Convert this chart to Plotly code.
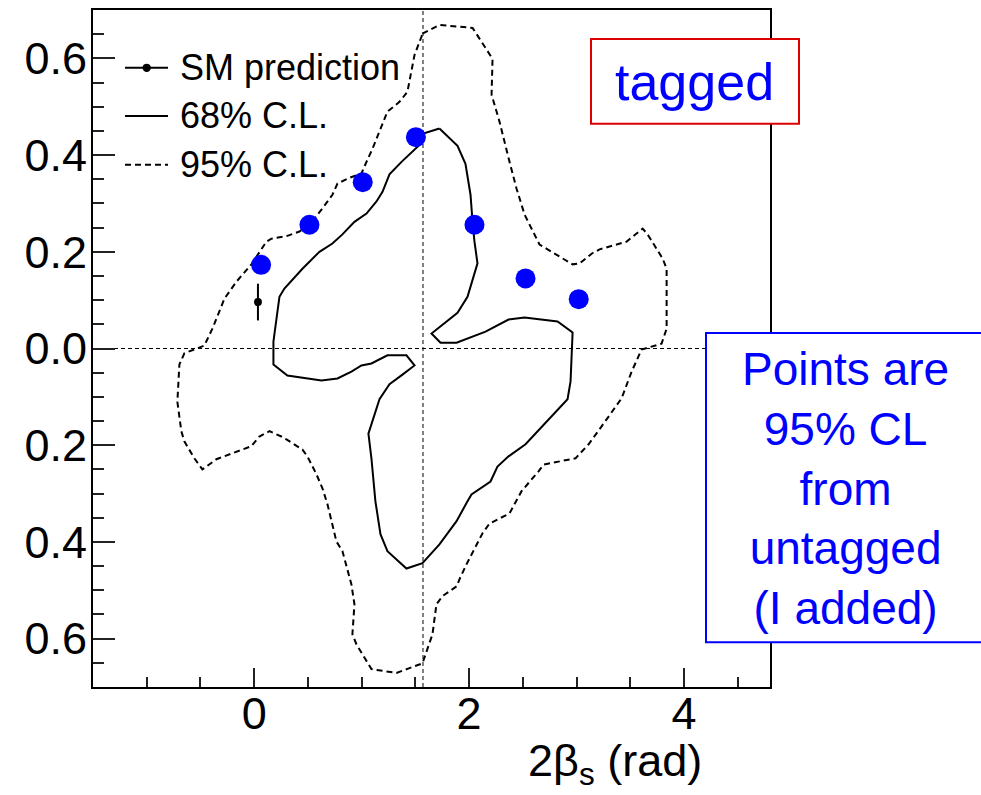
import math
import plotly.graph_objects as go

# ---------------- data ----------------
# 68% C.L. contour (closed path)
cl68_x = [1.724, 1.892, 1.966, 2.013, 2.032, 2.050, 2.078, 1.985, 1.892, 1.650,
          1.734, 1.883, 2.153, 2.367, 2.516, 2.823, 2.963, 2.953, 2.944, 2.916,
          2.525, 2.367, 2.264, 2.199, 2.022, 1.985, 1.883, 1.724, 1.566, 1.417,
          1.240, 1.175, 1.128, 1.091, 1.063, 1.166, 1.259, 1.380, 1.492, 1.417,
          1.240, 1.091, 0.998, 0.905, 0.775, 0.626, 0.309, 0.179, 0.179, 0.188,
          0.207, 0.235, 0.281, 0.449, 0.607, 0.728, 0.821, 0.933, 1.045, 1.138,
          1.194, 1.259, 1.371, 1.473, 1.538, 1.566]
cl68_y = [0.455, 0.419, 0.382, 0.318, 0.262, 0.221, 0.176, 0.107, 0.074, 0.031,
          0.012, 0.012, 0.035, 0.060, 0.064, 0.056, 0.033, -0.027, -0.068, -0.105,
          -0.198, -0.223, -0.244, -0.275, -0.302, -0.316, -0.357, -0.405, -0.444, -0.455,
          -0.419, -0.384, -0.316, -0.227, -0.176, -0.105, -0.074, -0.054, -0.035, -0.014,
          -0.014, -0.031, -0.035, -0.048, -0.062, -0.066, -0.056, -0.033, 0.014, 0.029,
          0.062, 0.107, 0.124, 0.165, 0.200, 0.217, 0.236, 0.262, 0.279, 0.304,
          0.324, 0.360, 0.386, 0.407, 0.421, 0.444]

# 95% C.L. contour (closed path)
cl95_x = [1.566, 1.724, 2.032, 2.134, 2.218, 2.209, 2.283, 2.376, 2.441, 2.516,
          2.655, 2.842, 2.963, 3.028, 3.140, 3.214, 3.466, 3.615, 3.661, 3.801,
          3.838, 3.838, 3.838, 3.791, 3.652, 3.605, 3.512, 3.419, 3.233, 3.112,
          2.991, 2.693, 2.646, 2.488, 2.376, 2.283, 2.190, 2.125, 2.069, 1.976,
          1.911, 1.883, 1.752, 1.696, 1.659, 1.613, 1.566, 1.445, 1.324, 1.091,
          0.952, 0.914, 0.933, 0.905, 0.821, 0.765, 0.728, 0.682, 0.635, 0.579,
          0.495, 0.449, 0.300, 0.253, 0.142, 0.048, -0.026, -0.203, -0.352, -0.482,
          -0.557, -0.650, -0.678, -0.715, -0.696, -0.650, -0.557, -0.464, -0.389, -0.277,
          -0.166, -0.026, 0.114, 0.160, 0.309, 0.421, 0.514, 0.626, 0.728, 0.775,
          0.886, 0.998, 1.045, 1.101, 1.240, 1.352, 1.426, 1.464, 1.492, 1.557]
cl95_y = [0.651, 0.669, 0.663, 0.628, 0.599, 0.525, 0.469, 0.386, 0.331, 0.277,
          0.215, 0.190, 0.174, 0.176, 0.196, 0.205, 0.221, 0.248, 0.236, 0.186,
          0.165, 0.097, 0.041, 0.010, 0.002, -0.002, -0.048, -0.103, -0.161, -0.198,
          -0.227, -0.240, -0.254, -0.295, -0.341, -0.351, -0.362, -0.382, -0.405, -0.446,
          -0.477, -0.492, -0.512, -0.529, -0.591, -0.620, -0.651, -0.661, -0.671, -0.663,
          -0.612, -0.591, -0.529, -0.488, -0.419, -0.399, -0.362, -0.322, -0.289, -0.260,
          -0.223, -0.209, -0.188, -0.182, -0.171, -0.182, -0.202, -0.217, -0.229, -0.250,
          -0.227, -0.192, -0.171, -0.110, -0.033, -0.010, -0.002, 0.006, 0.041, 0.103,
          0.138, 0.174, 0.221, 0.227, 0.233, 0.242, 0.256, 0.287, 0.318, 0.341,
          0.353, 0.362, 0.386, 0.413, 0.490, 0.510, 0.531, 0.579, 0.607, 0.645]

# 95% CL points from untagged analysis
untag_x = [0.064, 0.514, 1.010, 1.505, 2.050, 2.525, 3.020]
untag_y = [0.173, 0.256, 0.344, 0.437, 0.256, 0.145, 0.102]

# SM prediction
sm_x = [0.035]
sm_y = [0.096]
sm_err = [0.038]

# reference lines
h_line_y = 0.0
v_line_x = math.pi / 2

# axes
x_range = [-1.5, 4.8]
y_range = [-0.7, 0.7]
x_tickvals = [0, 2, 4]
x_ticktext = ["0", "2", "4"]
y_tickvals = [-0.6, -0.4, -0.2, 0.0, 0.2, 0.4, 0.6]
y_ticktext = ["0.6", "0.4", "0.2", "0.0", "0.2", "0.4", "0.6"]

legend_labels = ["SM prediction", "68% C.L.", "95% C.L."]
x_title = "2β<sub>s</sub> (rad)"
tag_text = "tagged"
note_text = "Points are<br>95% CL<br>from<br>untagged<br>(I added)"

# ---------------- figure ----------------
W, H = 981, 795
ML, MR, MT, MB = 93, 211, 8, 108
PW, PH = W - ML - MR, H - MT - MB


def px(xp):
    return (xp - ML) / PW


def py(yp):
    return (H - MB - yp) / PH


FONT = "Liberation Sans, Arial, Helvetica, sans-serif"
CL95_DASH = "6px,4px"

fig = go.Figure()

fig.add_trace(go.Scatter(
    x=cl95_x + cl95_x[:1], y=cl95_y + cl95_y[:1], mode="lines",
    line=dict(color="black", width=2, dash=CL95_DASH), showlegend=False,
    hoverinfo="skip"))
fig.add_trace(go.Scatter(
    x=cl68_x + cl68_x[:1], y=cl68_y + cl68_y[:1], mode="lines",
    line=dict(color="black", width=2), showlegend=False, hoverinfo="skip"))
fig.add_trace(go.Scatter(
    x=untag_x, y=untag_y, mode="markers",
    marker=dict(color="#0000ff", size=20, line=dict(width=0)), showlegend=False))
fig.add_trace(go.Scatter(
    x=sm_x, y=sm_y, mode="markers",
    marker=dict(color="black", size=8),
    error_y=dict(type="data", array=sm_err, visible=True, color="black",
                 thickness=2, width=0),
    showlegend=False))

shapes = [
    dict(type="line", xref="paper", x0=0, x1=1, yref="y", y0=h_line_y, y1=h_line_y,
         line=dict(color="black", width=1, dash="4px,3px"), layer="below"),
    dict(type="line", xref="x", x0=v_line_x, x1=v_line_x, yref="paper", y0=0, y1=1,
         line=dict(color="black", width=1, dash="4px,3px"), layer="below"),
]

# legend (drawn by hand, ROOT style)
row_y = [66, 114.3, 163.3]
dashes = [None, None, CL95_DASH]
for i, lab in enumerate(legend_labels):
    ln = dict(color="black", width=2)
    if dashes[i]:
        ln["dash"] = dashes[i]
    shapes.append(dict(type="line", xref="paper", yref="paper",
                       x0=px(125), x1=px(168), y0=py(row_y[i]), y1=py(row_y[i]),
                       line=ln))
    fig.add_annotation(xref="paper", yref="paper", x=px(178), y=py(row_y[i]),
                       text=lab, showarrow=False, xanchor="left", yanchor="middle",
                       font=dict(family=FONT, size=36, color="black"))
shapes.append(dict(type="circle", xref="paper", yref="paper",
                   x0=px(146.7 - 4.2), x1=px(146.7 + 4.2),
                   y0=py(66 + 4.2), y1=py(66 - 4.2),
                   fillcolor="black", line=dict(color="black", width=0)))

# text boxes
shapes.append(dict(type="rect", xref="paper", yref="paper",
                   x0=px(591), x1=px(799), y0=py(122), y1=py(37),
                   fillcolor="white", line=dict(color="#dd0000", width=2),
                   layer="above"))
shapes.append(dict(type="rect", xref="paper", yref="paper",
                   x0=px(706), x1=px(1010), y0=py(642), y1=py(332),
                   fillcolor="white", line=dict(color="#0000ff", width=2),
                   layer="above"))

fig.add_annotation(xref="paper", yref="paper", x=px(694), y=py(80),
                   text=tag_text, showarrow=False, xanchor="center", yanchor="middle",
                   font=dict(family=FONT, size=52, color="#0000ff"))
fig.add_annotation(xref="paper", yref="paper", x=px(845), y=py(488),
                   text=note_text, showarrow=False, xanchor="center", yanchor="middle",
                   font=dict(family=FONT, size=46, color="#0000ff"))

# x-axis title, right aligned (ROOT style)
fig.add_annotation(xref="paper", yref="paper", x=px(704), y=py(733),
                   text=x_title, showarrow=False, xanchor="right", yanchor="top",
                   font=dict(family=FONT, size=45, color="black"))

fig.update_layout(
    width=W, height=H, autosize=False,
    margin=dict(l=ML, r=MR, t=MT, b=MB, pad=0),
    paper_bgcolor="white", plot_bgcolor="white",
    shapes=shapes, showlegend=False,
    font=dict(family=FONT, color="black"),
)
fig.update_xaxes(
    range=x_range, showgrid=False, zeroline=False,
    showline=True, linecolor="black", linewidth=2, mirror=True,
    tickmode="array", tickvals=x_tickvals, ticktext=x_ticktext,
    ticks="inside", ticklen=19, tickwidth=1.5, tickcolor="#222",
    ticklabelstandoff=-14,
    tickfont=dict(family=FONT, size=45, color="black"),
    minor=dict(dtick=0.5, tick0=0, ticks="inside", ticklen=10, tickwidth=1.5,
               tickcolor="#222", showgrid=False),
)
fig.update_yaxes(
    range=y_range, showgrid=False, zeroline=False,
    showline=True, linecolor="black", linewidth=2, mirror=True,
    tickmode="array", tickvals=y_tickvals, ticktext=y_ticktext,
    ticks="inside", ticklen=22, tickwidth=1.5, tickcolor="#222",
    ticklabelstandoff=-5,
    tickfont=dict(family=FONT, size=45, color="black"),
    minor=dict(dtick=0.05, tick0=0, ticks="inside", ticklen=11, tickwidth=1.5,
               tickcolor="#222", showgrid=False),
)

fig.write_html("out.html")
